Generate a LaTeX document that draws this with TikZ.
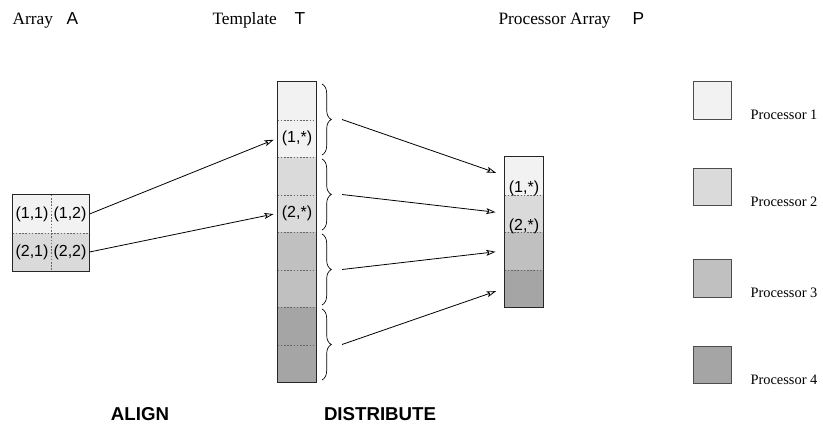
\documentclass[tikz,border=0pt]{standalone}
\usepackage{fontspec}
\setmainfont{Liberation Serif}
\setsansfont{Liberation Sans}
\usetikzlibrary{arrows.meta,decorations.pathreplacing}
\definecolor{shadeA}{RGB}{242,242,242}
\definecolor{shadeB}{RGB}{218,218,218}
\definecolor{shadeC}{RGB}{192,192,192}
\definecolor{shadeD}{RGB}{165,165,165}
\tikzset{every picture/.style={line width=0.75pt}}

\begin{document}
\begin{tikzpicture}[x=0.75pt,y=0.75pt,yscale=-1,xscale=1,
	cell/.style={draw=none,inner sep=0pt,minimum width=28.5pt,minimum height=28.125pt,font=\sffamily\fontsize{12}{12}\selectfont},
	sep/.style={color=black!60,line width=0.5pt,dash pattern=on 1.2pt off 1.2pt},
	frame/.style={draw=black!85,line width=0.7pt},
	lbl/.style={inner sep=0pt,font=\sffamily\fontsize{12}{12}\selectfont},
	brace/.style={decorate,decoration={brace,amplitude=7pt},line width=0.5pt},
	conn/.style={line width=0.6pt,-{Stealth[open,length=7pt,width=4.5pt,inset=1.5pt]}},
	legbox/.style={draw=black!70,line width=0.6pt,inner sep=0pt,minimum width=28.5pt,minimum height=28pt},
	legtxt/.style={inner sep=0pt,anchor=base west,font=\fontsize{10.8}{12}\selectfont},
	head/.style={inner sep=0pt,anchor=base west,font=\fontsize{13}{15}\selectfont},
	headsf/.style={inner sep=0pt,anchor=base west,font=\sffamily\fontsize{13}{15}\selectfont},
	optxt/.style={inner sep=0pt,font=\sffamily\bfseries\fontsize{14}{16}\selectfont}]
		\useasboundingbox (0,0) rectangle (823,428);
		
		%Titles
		\node[head] (hA) at (12,25) {Array};
		\node[headsf] (hAs) at (66,25) {A};
		\node[head] (hT) at (212,25) {Template};
		\node[headsf] (hTs) at (294,25) {T};
		\node[head] (hP) at (498,25) {Processor Array};
		\node[headsf] (hPs) at (632,25) {P};
		
		%Array A
		\node[cell,fill=shadeA] (a11) at (32,214) {(1,1)};
		\node[cell,fill=shadeA] (a12) at (70,214) {(1,2)};
		\node[cell,fill=shadeB] (a21) at (32,252) {(2,1)};
		\node[cell,fill=shadeB] (a22) at (70,252) {(2,2)};
		\draw [sep] (a11.north east) -- (a21.south east) ;
		\draw [sep] (a11.south west) -- (a12.south east) ;
		\draw [frame] (a11.north west) rectangle (a22.south east) ;
		
		%Template T
		\foreach \i/\c in {1/shadeA,2/shadeA,3/shadeB,4/shadeB,5/shadeC,6/shadeC,7/shadeD,8/shadeD}
			\node[cell,fill=\c] (t\i) at (297,{63.25+37.5*\i}) {};
		\foreach \i in {1,...,7}
			\draw [sep] (t\i.south west) -- (t\i.south east) ;
		\draw [frame] (t1.north west) rectangle (t8.south east) ;
		\node[lbl] (t2l) at (t2) {(1,*)};
		\node[lbl] (t4l) at (t4) {(2,*)};
		
		%Braces
		\foreach \i in {1,...,4} {
			\draw [brace] (322,{9+75*\i}) -- (322,{80+75*\i}) ;
			\coordinate (b\i) at (342,{44.5+75*\i}) ;
		}
		
		%Processor Array P
		\foreach \i/\c in {1/shadeA,2/shadeB,3/shadeC,4/shadeD}
			\node[cell,fill=\c] (p\i) at (524,{138.25+37.5*\i}) {};
		\foreach \i in {1,...,3}
			\draw [sep] (p\i.south west) -- (p\i.south east) ;
		\draw [frame] (p1.north west) rectangle (p4.south east) ;
		\node[lbl,anchor=south] (p1l) at ([yshift=1pt]p1.south) {(1,*)};
		\node[lbl,anchor=south] (p2l) at ([yshift=1pt]p2.south) {(2,*)};
		
		%Align arrows
		\draw [conn,shorten >=3pt] (a12.east) -- (t2.west) ;
		\draw [conn,shorten >=3pt] (a22.east) -- (t4.west) ;
		
		%Distribute arrows
		\foreach \i in {1,...,4}
			\draw [conn,shorten >=6.75pt] (b\i) -- (p\i.west) ;
		
		%Legend
		\foreach \i/\c/\y in {1/shadeA/100.5,2/shadeB/187,3/shadeC/278.5,4/shadeD/365} {
			\node[legbox,fill=\c] (leg\i) at (712,\y) {};
			\node[legtxt] (leg\i t) at ([xshift=14pt]leg\i.south east) {Processor \i};
		}
		
		%Operations
		\node[optxt] (align) at (140,414) {ALIGN};
		\node[optxt] (distr) at (380,414) {DISTRIBUTE};
		
\end{tikzpicture}
\end{document}
